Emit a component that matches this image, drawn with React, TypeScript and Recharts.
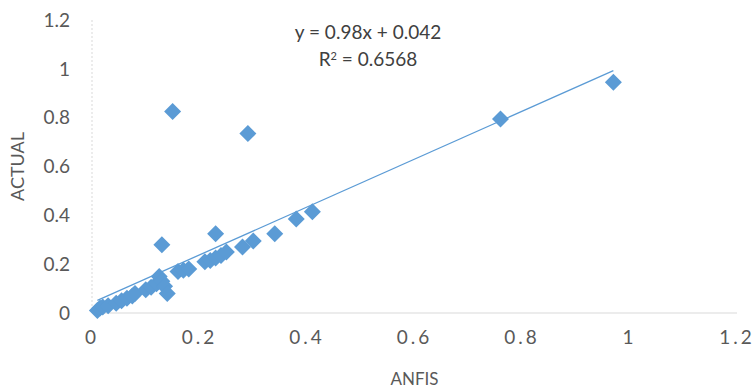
import { Scatter, ScatterChart, XAxis, YAxis, Label } from "recharts";

// ANFIS prediction vs actual value
const anfis = [
  0.01, 0.015, 0.02, 0.03, 0.045, 0.055, 0.065, 0.075, 0.08, 0.1, 0.11, 0.12,
  0.125, 0.13, 0.135, 0.14, 0.13, 0.15, 0.16, 0.17, 0.18, 0.21, 0.22, 0.23,
  0.24, 0.25, 0.23, 0.28, 0.3, 0.29, 0.34, 0.38, 0.41, 0.76, 0.97,
];
const actual = [
  0.01, 0.02, 0.025, 0.03, 0.04, 0.05, 0.06, 0.07, 0.08, 0.095, 0.105, 0.12,
  0.15, 0.13, 0.11, 0.08, 0.28, 0.825, 0.17, 0.175, 0.18, 0.21, 0.215, 0.225,
  0.235, 0.25, 0.325, 0.27, 0.295, 0.735, 0.325, 0.385, 0.415, 0.795, 0.945,
];
const axisTicks = [0, 0.2, 0.4, 0.6, 0.8, 1, 1.2];
const slope = 0.98;
const intercept = 0.042;

const points = anfis.map((x, i) => ({ x, y: actual[i] }));
const minX = Math.min(...anfis);
const maxX = Math.max(...anfis);
const trend = [minX, maxX].map((x) => ({ x, y: slope * x + intercept }));

const BLUE = "#5b9bd5";
const FONT = "Lato, 'Open Sans', sans-serif";

function Diamond({ cx, cy }: { cx?: number; cy?: number }) {
  if (cx == null || cy == null) return null;
  const r = 8.5;
  return (
    <path
      d={`M${cx},${cy - r}L${cx + r},${cy}L${cx},${cy + r}L${cx - r},${cy}Z`}
      fill={BLUE}
    />
  );
}

export default function App() {
  return (
    <div style={{ position: "absolute", left: 0, top: 0, width: 755, height: 388, background: "#fff" }}>
      <ScatterChart
        width={755}
        height={388}
        margin={{ top: 20, right: 18, bottom: 0, left: 0 }}
      >
        <XAxis
          type="number"
          dataKey="x"
          domain={[0, 1.2]}
          ticks={axisTicks}
          tickFormatter={(v: number) => String(v)}
          height={75}
          tickLine={false}
          tickSize={0}
          tickMargin={18}
          axisLine={{ stroke: "#d9d9d9" }}
          tick={{ fill: "#595959", fontSize: 19, fontFamily: FONT, letterSpacing: 3 }}
        >
          <Label
            value="ANFIS"
            position="insideBottom"
            offset={3}
            style={{ fill: "#595959", fontSize: 17, fontFamily: FONT }}
          />
        </XAxis>
        <YAxis
          type="number"
          dataKey="y"
          domain={[0, 1.2]}
          ticks={axisTicks}
          tickFormatter={(v: number) => String(v)}
          width={92}
          tickLine={false}
          tickSize={0}
          tickMargin={22}
          axisLine={{ stroke: "#d9d9d9", strokeDasharray: "2 2" }}
          tick={{ fill: "#595959", fontSize: 19, fontFamily: FONT }}
        >
          <Label
            value="ACTUAL"
            angle={-90}
            position="insideLeft"
            offset={18}
            style={{ fill: "#595959", fontSize: 18, fontFamily: FONT, textAnchor: "middle" }}
          />
        </YAxis>
        <Scatter data={points} fill={BLUE} shape={<Diamond />} isAnimationActive={false} />
        <Scatter
          data={trend}
          line={{ stroke: BLUE, strokeWidth: 1.3 }}
          shape={() => <g />}
          isAnimationActive={false}
        />
      </ScatterChart>
      <div
        style={{
          position: "absolute",
          left: 268,
          top: 18,
          width: 200,
          textAlign: "center",
          fontFamily: FONT,
          fontSize: 19,
          lineHeight: "27px",
          color: "#404040",
        }}
      >
        <div>y = 0.98x + 0.042</div>
        <div>
          R<sup style={{ fontSize: 11, verticalAlign: "6px", lineHeight: 0 }}>2</sup> = 0.6568
        </div>
      </div>
    </div>
  );
}
